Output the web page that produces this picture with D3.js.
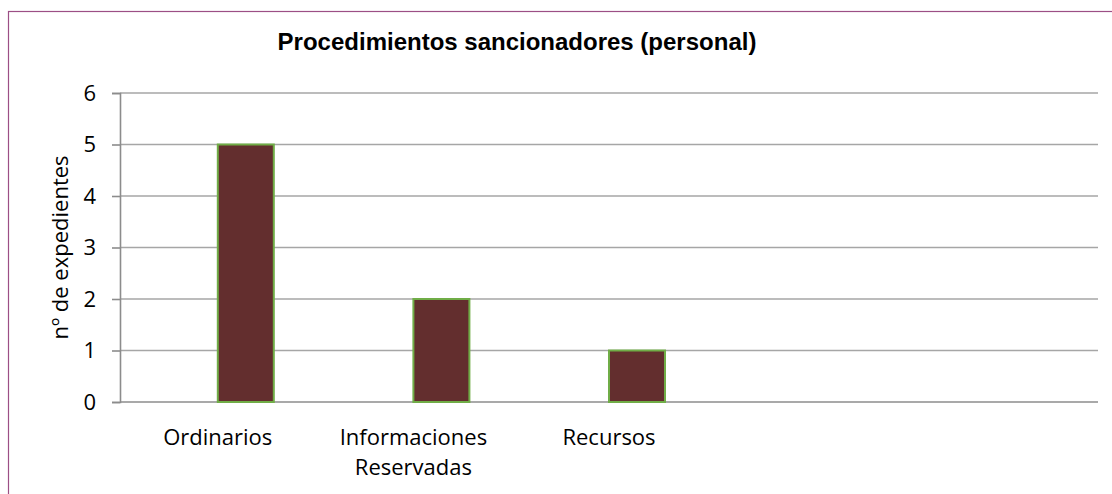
<!DOCTYPE html>
<html>
<head>
<meta charset="utf-8">
<script src="https://cdnjs.cloudflare.com/ajax/libs/d3/7.8.5/d3.min.js"></script>
<style>
  body { margin: 0; background: #fff; }
  text { font-family: "Open Sans", sans-serif; fill: #000; }
</style>
</head>
<body>
<div id="chart"></div>
<script>
//
// Data
//
var categories = [["Ordinarios"], ["Informaciones", "Reservadas"], ["Recursos"], [""], [""]];
var seriesNames = ["vacia", "expedientes"];
var serieVacia = [null, null, null, null, null];
var serieExpedientes = [5, 2, 1, null, null];
var yTicks = [0, 1, 2, 3, 4, 5, 6];

var width = 1112, height = 494;
var margin = { top: 93, right: 14, bottom: 92, left: 120 };

var svg = d3.select("#chart").append("svg")
    .attr("width", width)
    .attr("height", height);

// outer border
svg.append("rect")
    .attr("x", 8.5).attr("y", 11.5)
    .attr("width", width + 20).attr("height", height + 20)
    .attr("fill", "none")
    .attr("stroke", "#9c4f85")
    .attr("stroke-width", 1.2);

var catIdx = categories.map(function(d, i) { return i; });

var x = d3.scaleBand()
    .domain(catIdx)
    .range([margin.left, width - margin.right])
    .paddingInner(0.4274)
    .paddingOuter(0.2137);

var x1 = d3.scaleBand()
    .domain(seriesNames)
    .range([0, x.bandwidth()]);

var y = d3.scaleLinear()
    .domain([0, 6])
    .range([height - margin.bottom, margin.top]);

// gridlines
svg.append("g")
    .selectAll("line")
    .data(yTicks.slice(1))
    .enter().append("line")
    .attr("x1", margin.left)
    .attr("x2", width - margin.right)
    .attr("y1", function(d) { return y(d); })
    .attr("y2", function(d) { return y(d); })
    .attr("stroke", "#a6a6a6")
    .attr("stroke-width", 1.6);

// y axis
var yAxis = svg.append("g")
    .attr("transform", "translate(" + margin.left + ",0)")
    .call(d3.axisLeft(y).tickValues(yTicks).tickFormat(d3.format("d")).tickSize(8).tickPadding(16));
yAxis.select(".domain").attr("stroke", "#8c8c8c").attr("stroke-width", 1.6);
yAxis.selectAll(".tick line").attr("stroke", "#8c8c8c").attr("stroke-width", 1.6);
yAxis.selectAll(".tick text")
    .attr("font-size", 22)
    .attr("font-family", "Open Sans, sans-serif")
    .attr("fill", "#000");

// x axis baseline
svg.append("line")
    .attr("x1", margin.left)
    .attr("x2", width - margin.right)
    .attr("y1", y(0))
    .attr("y2", y(0))
    .attr("stroke", "#8c8c8c")
    .attr("stroke-width", 1.6);

// bars
var rows = [];
catIdx.forEach(function(i) {
    rows.push({ cat: i, serie: "vacia", value: serieVacia[i] });
    rows.push({ cat: i, serie: "expedientes", value: serieExpedientes[i] });
});

svg.append("g")
    .selectAll("rect")
    .data(rows.filter(function(d) { return d.value != null; }))
    .enter().append("rect")
    .attr("x", function(d) { return x(d.cat) + x1(d.serie); })
    .attr("y", function(d) { return y(d.value); })
    .attr("width", x1.bandwidth())
    .attr("height", function(d) { return y(0) - y(d.value); })
    .attr("fill", "#632e2e")
    .attr("stroke", "#70ad47")
    .attr("stroke-width", 2);

// category labels
var labels = svg.append("g")
    .selectAll("text")
    .data(catIdx)
    .enter().append("text")
    .attr("text-anchor", "middle")
    .attr("font-size", 22)
    .attr("x", function(d) { return x(d) + x.bandwidth() / 2; })
    .attr("y", 445);

labels.selectAll("tspan")
    .data(function(d) { return categories[d]; })
    .enter().append("tspan")
    .attr("x", function() { var p = d3.select(this.parentNode).datum(); return x(p) + x.bandwidth() / 2; })
    .attr("dy", function(d, i) { return i == 0 ? 0 : 30; })
    .text(function(d) { return d; });

// y axis title
svg.append("text")
    .attr("transform", "translate(68," + (y(3)) + ") rotate(-90)")
    .attr("text-anchor", "middle")
    .attr("font-size", 22)
    .text("nº de expedientes");

// title
svg.append("text")
    .attr("x", 517)
    .attr("y", 50)
    .attr("text-anchor", "middle")
    .attr("font-weight", "bold")
    .attr("font-size", 24)
    .style("font-family", "Liberation Sans, Arial, sans-serif")
    .text("Procedimientos sancionadores (personal)");
</script>
</body>
</html>
